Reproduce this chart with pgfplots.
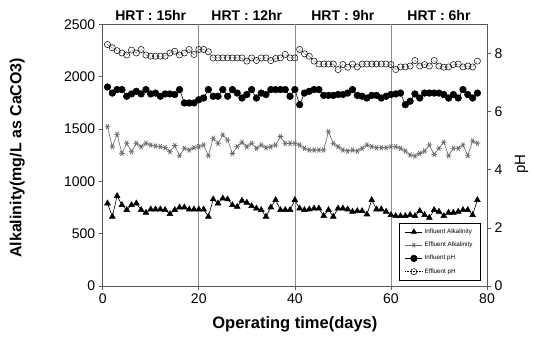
\documentclass[border=0pt]{standalone}
\usepackage{pgfplots}
\pgfplotsset{compat=1.18}
\usepackage{pgfplotstable}
\usepackage{fontspec}
\setmainfont{Liberation Sans}

\pgfplotstableread{
day ia ea ip ep
1 790 1523 6.85 8.31
2 663 1332 6.64 8.20
3 860 1450 6.76 8.10
4 774 1268 6.76 8.02
5 727 1364 6.53 7.95
6 774 1284 6.61 8.12
7 790 1364 6.70 8.02
8 727 1332 6.61 8.14
9 701 1364 6.76 7.95
10 733 1348 6.61 7.91
11 733 1338 6.64 7.91
12 733 1332 6.53 7.91
13 727 1322 6.61 7.91
14 688 1284 6.61 8.02
15 727 1342 6.59 8.08
16 752 1246 6.76 7.95
17 752 1316 6.30 8.02
18 733 1300 6.30 8.14
19 733 1322 6.30 7.97
20 733 1332 6.41 8.14
21 733 1348 6.47 8.14
22 663 1246 6.76 8.06
23 829 1412 6.53 7.85
24 790 1364 6.53 7.85
25 838 1444 6.76 7.85
26 829 1396 6.53 7.85
27 774 1268 6.76 7.85
28 758 1332 6.64 7.85
29 816 1374 6.47 7.85
30 797 1332 6.59 7.74
31 765 1364 6.76 7.85
32 742 1316 6.47 7.76
33 727 1348 6.64 7.85
34 663 1322 6.59 7.85
35 752 1332 6.76 7.76
36 822 1348 6.76 7.83
37 727 1428 6.76 7.85
38 727 1364 6.76 7.97
39 727 1364 6.53 7.85
40 822 1364 6.76 7.85
41 742 1348 6.24 8.14
42 727 1316 6.64 7.99
43 733 1300 6.70 7.91
44 742 1300 6.76 7.74
45 742 1300 6.76 7.64
46 669 1300 6.56 7.64
47 727 1475 6.56 7.64
48 663 1364 6.56 7.64
49 742 1332 6.59 7.45
50 742 1300 6.59 7.62
51 733 1290 6.64 7.53
52 711 1300 6.76 7.64
53 717 1290 6.56 7.54
54 717 1316 6.53 7.64
55 685 1348 6.47 7.64
56 822 1332 6.56 7.64
57 733 1322 6.56 7.64
58 733 1322 6.47 7.64
59 711 1322 6.53 7.64
60 679 1332 6.59 7.62
61 669 1332 6.61 7.45
62 669 1316 6.64 7.54
63 669 1290 6.24 7.54
64 679 1252 6.36 7.57
65 669 1242 6.61 7.76
66 717 1268 6.47 7.57
67 679 1290 6.64 7.62
68 653 1348 6.64 7.57
69 727 1258 6.64 7.76
70 711 1316 6.64 7.57
71 669 1374 6.59 7.53
72 701 1246 6.47 7.54
73 701 1316 6.59 7.62
74 711 1316 6.47 7.64
75 727 1348 6.76 7.54
76 727 1246 6.59 7.57
77 679 1386 6.47 7.54
78 822 1364 6.64 7.74
}\data

\definecolor{axgray}{gray}{0.35}
\definecolor{divgray}{gray}{0.55}
\definecolor{effgray}{gray}{0.42}

\begin{document}
\begin{tikzpicture}
\pgfplotsset{
  base/.style={
    scale only axis, width=384.3pt, height=261.5pt,
    xmin=0, xmax=80,
    axis line style={axgray, line width=0.6pt},
    major tick style={axgray, line width=0.6pt},
    tick align=outside, major tick length=4pt,
    /pgf/number format/assume math mode=true,
    /pgf/number format/set thousands separator={},
    tick label style={font=\fontsize{14}{16}\selectfont},
    clip=false,
  }
}
\begin{axis}[base, name=ax1,
  ymin=0, ymax=2500, ytick={0,500,...,2500},
  xtick={0,20,...,80},
  xtick pos=bottom, ytick pos=left,
  xlabel={Operating time(days)},
  ylabel={Alkalinity(mg/L as CaCO3)},
  xlabel style={font=\bfseries\fontsize{16.5}{18}\selectfont, at={(axis description cs:0.5,-0.146)}, anchor=center},
  ylabel style={font=\bfseries\fontsize{16}{18}\selectfont, at={(axis description cs:-0.222,0.49)}, anchor=center},
]
\addplot[divgray, line width=0.7pt, forget plot] coordinates {(20,0) (20,2500)};
\addplot[divgray, line width=0.7pt, forget plot] coordinates {(40,0) (40,2500)};
\addplot[divgray, line width=0.7pt, forget plot] coordinates {(60,0) (60,2500)};
\addplot[black, line width=0.6pt, mark=triangle*, mark size=3.3pt] table[x=day, y=ia] {\data};
\addplot[effgray, line width=0.6pt, mark=asterisk, mark size=2.9pt, mark options={rotate=90, line width=0.8pt}] table[x=day, y=ea] {\data};
\node[font=\bfseries\fontsize{14}{16}\selectfont, anchor=base] at (axis cs:10,2500) [yshift=4pt] {HRT : 15hr};
\node[font=\bfseries\fontsize{14}{16}\selectfont, anchor=base] at (axis cs:30,2500) [yshift=4pt] {HRT : 12hr};
\node[font=\bfseries\fontsize{14}{16}\selectfont, anchor=base] at (axis cs:50,2500) [yshift=4pt] {HRT : 9hr};
\node[font=\bfseries\fontsize{14}{16}\selectfont, anchor=base] at (axis cs:70,2500) [yshift=4pt] {HRT : 6hr};
\end{axis}
\begin{axis}[base,
  ymin=0, ymax=9, ytick={0,2,...,8},
  axis x line=none, axis y line*=right,
  ytick pos=right,
  ylabel={pH},
  ylabel style={font=\fontsize{15}{18}\selectfont, at={(axis description cs:1.09,0.465)}, anchor=center},
  legend style={at={(0.984,0.019)}, anchor=south east, draw=black, line width=0.6pt,
    font=\fontsize{6.3}{7.5}\selectfont, row sep=3.2pt, inner xsep=6pt, inner ysep=4pt},
  legend cell align=left,
]
\addlegendimage{black, line width=0.6pt, mark=triangle*, mark size=3pt}
\addlegendentry{Influent Alkalinity}
\addlegendimage{effgray, line width=0.6pt, mark=asterisk, mark size=2.6pt, mark options={rotate=90, line width=0.7pt}}
\addlegendentry{Effluent Alkalinity}
\addplot[black, line width=0.6pt, mark=*, mark size=3.3pt] table[x=day, y=ip] {\data};
\addlegendentry{Influent pH}
\addplot[black, line width=0.5pt, densely dotted, mark=o, mark size=3.1pt, mark options={solid, fill=white, line width=0.5pt}] table[x=day, y=ep] {\data};
\addlegendentry{Effluent pH}
\end{axis}
\path[use as bounding box] ([shift={(-102.7pt,-60pt)}]ax1.south west) rectangle ([shift={(47pt,24.5pt)}]ax1.north east);
\end{tikzpicture}
\end{document}
